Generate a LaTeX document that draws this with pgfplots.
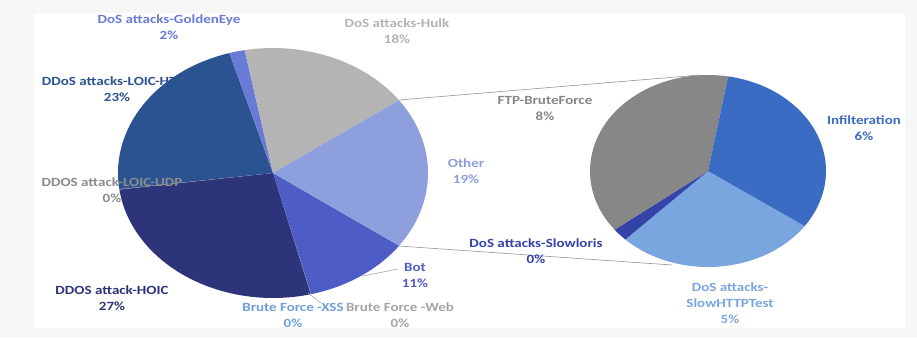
\documentclass[border=0pt]{standalone}
\usepackage{pgfplots}
\pgfplotsset{compat=1.18}
\usepackage{fontspec}
\setmainfont{Carlito}
\definecolor{cBot}{HTML}{4E5CC6}
\definecolor{cWeb}{HTML}{A5A5A5}
\definecolor{cXSS}{HTML}{6F9FDA}
\definecolor{cHOIC}{HTML}{2D3479}
\definecolor{cUDP}{HTML}{8C8C8C}
\definecolor{cLOIC}{HTML}{2C5391}
\definecolor{cGold}{HTML}{6A7BD6}
\definecolor{cHulk}{HTML}{B4B4B4}
\definecolor{cOther}{HTML}{8E9FDD}
\definecolor{cHTTP}{HTML}{7AA6E0}
\definecolor{cLoris}{HTML}{3343A8}
\definecolor{cFTP}{HTML}{878787}
\definecolor{cInfil}{HTML}{3B6CC3}
\tikzset{lbl/.style={font=\fontsize{12.5}{16}\selectfont\bfseries, align=center, xscale=1.2, inner sep=0pt}}
% main pie: counts in thousands (alphabetical order, "Other" last)
\def\mainslices{286.191/cBot, 0.611/cWeb, 0.230/cXSS, 686.012/cHOIC, 1.730/cUDP, 576.191/cLOIC, 41.508/cGold, 461.912/cHulk, 506.174/cOther}
% second pie (breakdown of "Other")
\def\subslices{139.890/cHTTP, 10.990/cLoris, 193.360/cFTP, 161.934/cInfil}
\begin{document}
\begin{tikzpicture}
\begin{axis}[
  width=917pt, height=337pt, scale only axis,
  xmin=0, xmax=917, ymin=0, ymax=337, y dir=reverse,
  hide axis, clip=false,
]
\fill[white!97!black] (axis cs:0,0) rectangle (axis cs:917,337);
\fill[white] (axis cs:34,13) rectangle (axis cs:905,328);
% ---- main pie
\gdef\tot{0}
\foreach \v/\c in \mainslices {\pgfmathsetmacro\t{\tot+\v}\xdef\tot{\t}}
\pgfmathsetmacro\a{-0.5*506.174/\tot*360}\xdef\ang{\a}
\foreach \v/\c in \mainslices {
  \pgfmathsetmacro\b{\ang-\v/\tot*360}
  \edef\tmp{\noexpand\fill[\c] (axis cs:273,173) -- ++(\ang:155pt and 125pt) arc[start angle=\ang, end angle=\b, x radius=155pt, y radius=125pt] -- cycle;}
  \tmp
  \xdef\ang{\b}
}
% ---- second pie
\gdef\tot{0}
\foreach \v/\c in \subslices {\pgfmathsetmacro\t{\tot+\v}\xdef\tot{\t}}
\xdef\ang{-35}
\foreach \v/\c in \subslices {
  \pgfmathsetmacro\b{\ang-\v/\tot*360}
  \edef\tmp{\noexpand\fill[\c] (axis cs:708,171) -- ++(\ang:118pt and 96pt) arc[start angle=\ang, end angle=\b, x radius=118pt, y radius=96pt] -- cycle;}
  \tmp
  \xdef\ang{\b}
}
% connector and leader lines
\draw[cWeb!90!black, line width=0.6pt] (axis cs:399,100) -- (axis cs:700,75);
\draw[cWeb!90!black, line width=0.6pt] (axis cs:399,246) -- (axis cs:672,265);
\draw[cWeb, line width=0.6pt] (axis cs:363,276) -- (axis cs:398,269);
\draw[cWeb, line width=0.6pt] (axis cs:308,293) -- (axis cs:321,303);
% labels
\node[lbl, text=cGold]  at (axis cs:169,27)  {DoS attacks-GoldenEye\\2\%};
\node[lbl, text=cHulk]  at (axis cs:397,31)  {DoS attacks-Hulk\\18\%};
\node[lbl, text=cLOIC]  at (axis cs:117,89)  {DDoS attacks-LOIC-HTTP\\23\%};
\node[lbl, text=cUDP]   at (axis cs:112,190) {DDOS attack-LOIC-UDP\\0\%};
\node[lbl, text=cHOIC]  at (axis cs:112,298) {DDOS attack-HOIC\\27\%};
\node[lbl, text=cXSS]   at (axis cs:293,315) {Brute Force -XSS\\0\%};
\node[lbl, text=cWeb]   at (axis cs:400,315) {Brute Force -Web\\0\%};
\node[lbl, text=cBot]   at (axis cs:415,275) {Bot\\11\%};
\node[lbl, text=cOther] at (axis cs:466,171) {Other\\19\%};
\node[lbl, text=cFTP]   at (axis cs:545,108) {FTP-BruteForce\\8\%};
\node[lbl, text=cInfil] at (axis cs:864,128) {Infilteration\\6\%};
\node[lbl, text=cLoris] at (axis cs:536,251) {DoS attacks-Slowloris\\0\%};
\node[lbl, text=cHTTP]  at (axis cs:730,303) {DoS attacks-\\SlowHTTPTest\\5\%};
\end{axis}
\end{tikzpicture}
\end{document}
